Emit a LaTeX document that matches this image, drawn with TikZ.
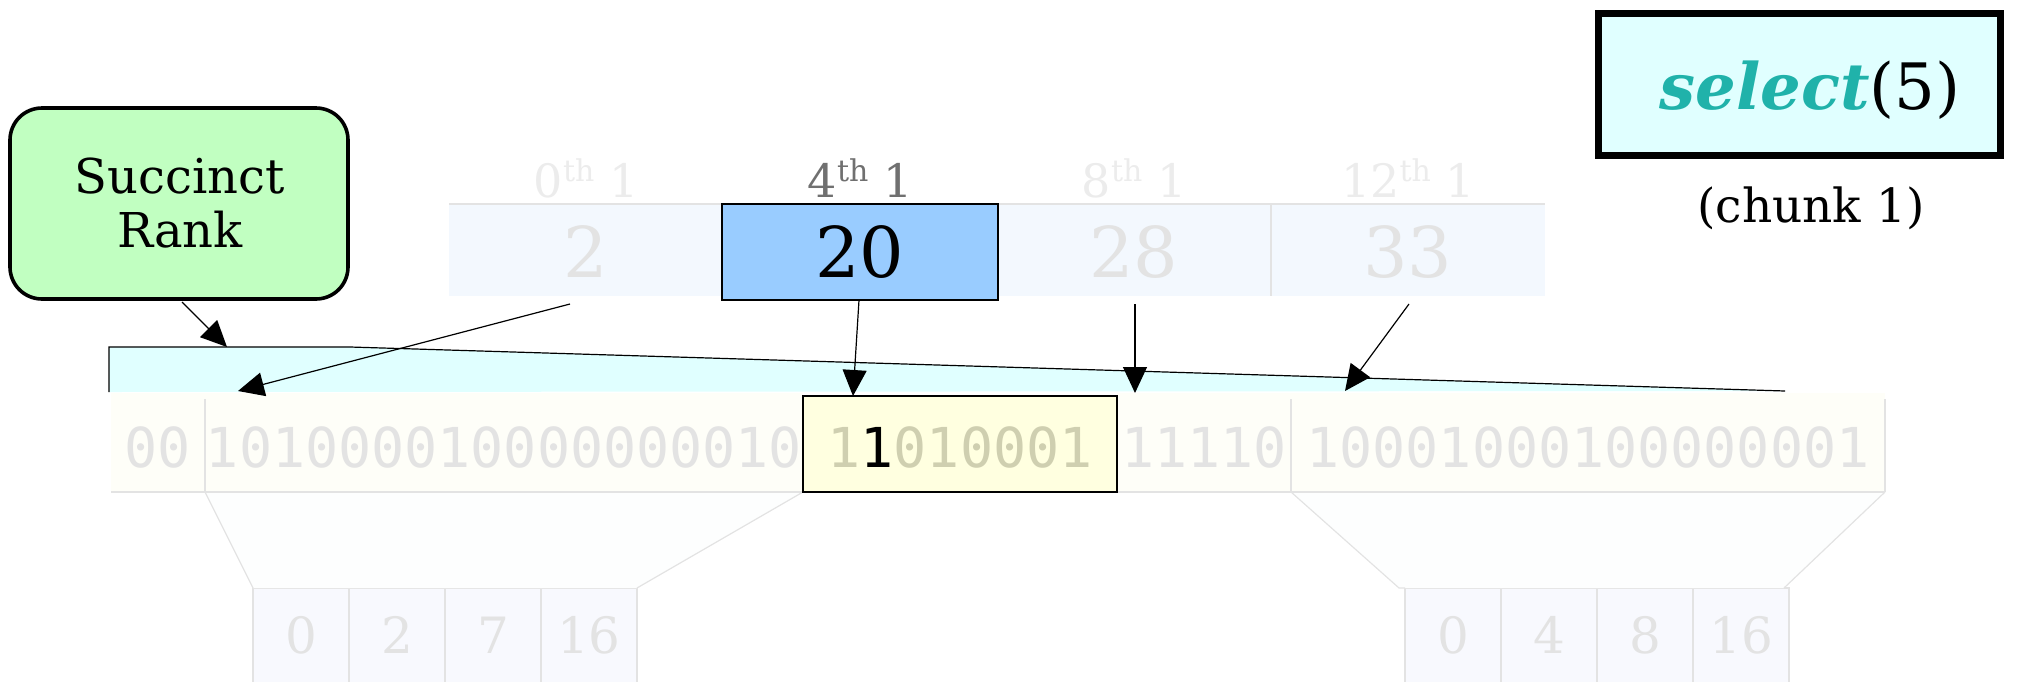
\documentclass[tikz,border=0pt]{standalone}
\usepackage{fontspec}
\setmainfont{DejaVu Serif}
\newfontfamily\bitfont{DejaVu Sans Mono}
\usetikzlibrary{arrows.meta,calc}
\definecolor{rankgreen}{HTML}{C1FFC1}
\definecolor{lcyan}{HTML}{E0FFFF}
\definecolor{cellfill}{HTML}{F3F8FE}
\definecolor{selblue}{HTML}{99CCFF}
\definecolor{bitfill}{HTML}{FEFEF8}
\definecolor{lyellow}{HTML}{FFFFE0}
\definecolor{ytext}{HTML}{CFCFB0}
\definecolor{fadetext}{HTML}{E3E3E3}
\definecolor{faintlbl}{HTML}{ECECEC}
\definecolor{midgray}{HTML}{707070}
\definecolor{gridgray}{HTML}{E3E3E3}
\definecolor{trapfill}{HTML}{FDFEFE}
\definecolor{arrfill}{HTML}{F8F9FE}
\definecolor{seagreen}{HTML}{20B2AA}
\newcommand\thsup{\raisebox{0.33em}{\fontsize{15}{15}\selectfont th}}
\begin{document}
\begin{tikzpicture}[x=0.5pt,y=-0.5pt,
  plain/.style={inner sep=0pt,outer sep=0pt},
  cellbox/.style={plain,fill=cellfill,minimum width=137pt,minimum height=46pt},
  segbox/.style={plain,fill=bitfill,minimum height=49.5pt},
  arrbox/.style={plain,fill=arrfill,draw=gridgray,line width=0.6pt,minimum width=48pt,minimum height=50pt},
  lbl/.style={plain,anchor=base,font=\fontsize{23}{27}\selectfont},
  bignum/.style={plain,anchor=base,font=\fontsize{35}{40}\selectfont},
  bits/.style={plain,anchor=base,font=\bitfont\fontsize{27.5}{30}\selectfont},
  smallnum/.style={plain,anchor=base,font=\fontsize{25}{28}\selectfont,text=fadetext},
  grid/.style={draw=gridgray,line width=0.6pt},
  conn/.style={draw=black,line width=0.6pt,-{Triangle[length=13pt,width=12pt]}}
]
\useasboundingbox (0,0) rectangle (2036,681);

% cyan zoom region
\coordinate (k1) at (109,392);
\coordinate (k2) at (109,347);
\coordinate (k3) at (350,347);
\coordinate (k4) at (1785,391);
\fill[lcyan] (k1) -- (k2) -- (k3) -- (k4) -- cycle;
\draw[black,line width=0.6pt] (k1) -- (k2) -- (k3) -- (k4);
\coordinate (rankin) at (227,347);

% Succinct Rank
\node[plain,draw=black,line width=1.8pt,fill=rankgreen,rounded corners=16pt,
  minimum width=169pt,minimum height=95.5pt] (succ) at (179,203.5) {};
\node[plain,anchor=base,font=\fontsize{24}{28}\selectfont] (succt) at (180,193) {Succinct};
\node[plain,anchor=base,font=\fontsize{24}{28}\selectfont] (rankt) at (180,247) {Rank};

% select(5)
\node[plain,draw=black,line width=3.5pt,fill=lcyan,minimum width=201pt,minimum height=71pt] (sel) at (1799,84) {};
\node[plain,anchor=base,font=\fontsize{32}{36}\selectfont] (selt) at (1810,109) {\textcolor{seagreen}{\bfseries\itshape select}(5)};
\node[plain,anchor=base,font=\fontsize{23.5}{27}\selectfont] (chunk) at (1811,222) {(chunk 1)};

% top sample array
\node[cellbox] (c0) at (586,250) {};
\node[cellbox] (c1) at (860,250) {};
\node[cellbox] (c2) at (1134,250) {};
\node[cellbox] (c3) at (1408,250) {};
\draw[grid] (c0.north west) -- (c3.north east);
\draw[grid] (c2.north east) -- (c2.south east);
\node[plain,draw=black,line width=0.75pt,fill=selblue,minimum width=138pt,minimum height=48pt] (b20) at (860,252) {};
\node[lbl,text=faintlbl] (l0) at (586,197) {0\thsup\ 1};
\node[lbl,text=midgray] (l1) at (860,197) {4\thsup\ 1};
\node[lbl,text=faintlbl] (l2) at (1134,197) {8\thsup\ 1};
\node[lbl,text=faintlbl] (l3) at (1408,197) {12\thsup\ 1};
\node[bignum,text=fadetext] (n0) at (586,277) {2};
\node[bignum,text=black] (n1) at (860,277) {20};
\node[bignum,text=fadetext] (n2) at (1134,277) {28};
\node[bignum,text=fadetext] (n3) at (1408,277) {33};

% bit row
\node[segbox,minimum width=47pt] (s0) at (158,442.5) {};
\node[segbox,minimum width=299pt] (s1) at (504,442.5) {};
\node[segbox,minimum width=87pt] (s3) at (1204,442.5) {};
\node[segbox,minimum width=297pt] (s4) at (1588,442.5) {};
\draw[grid] ($(s1.north west)+(0,6)$) -- (s1.south west);
\draw[grid] ($(s4.north west)+(0,6)$) -- (s4.south west);
\draw[grid] ($(s4.north east)+(0,6)$) -- (s4.south east);

% lower sample arrays
\node[arrbox] (a0) at (301,638) {};
\node[arrbox] (a1) at (397,638) {};
\node[arrbox] (a2) at (493,638) {};
\node[arrbox] (a3) at (589,638) {};
\node[arrbox] (r0) at (1453,638) {};
\node[arrbox] (r1) at (1549,638) {};
\node[arrbox] (r2) at (1645,638) {};
\node[arrbox] (r3) at (1741,638) {};

% trapezoids
\fill[trapfill] (s1.south west) -- (s1.south east) -- (a3.north east) -- (a0.north west) -- cycle;
\draw[grid] (s1.south west) -- (a0.north west);
\draw[grid] (s1.south east) -- (a3.north east);
\coordinate (rbl) at ($(r0.north west)+(-6,0)$);
\coordinate (rbr) at ($(r3.north east)+(-5,0)$);
\fill[trapfill] (s4.south west) -- (s4.south east) -- (rbr) -- (rbl) -- cycle;
\draw[grid] (s4.south west) -- (rbl) -- (r0.north west);
\draw[grid] (s4.south east) -- (rbr);
\draw[grid] (s0.south west) -- (s4.south east);

\node[smallnum] at (301,653) {0};
\node[smallnum] at (397,653) {2};
\node[smallnum] at (493,653) {7};
\node[smallnum] at (589,653) {16};
\node[smallnum] at (1453,653) {0};
\node[smallnum] at (1549,653) {4};
\node[smallnum] at (1645,653) {8};
\node[smallnum] at (1741,653) {16};

% highlighted chunk
\node[plain,draw=black,line width=1pt,fill=lyellow,minimum width=157pt,minimum height=48pt] (yb) at (960,444) {};
\node[bits,text=fadetext] (t0) at (158,467) {00};
\node[bits,text=fadetext] (t1) at (504,467) {101000010000000010};
\node[bits,text=ytext] (t2) at (960,467) {1\textcolor{black}{1}010001};
\node[bits,text=fadetext] (t3) at (1204,467) {11110};
\node[bits,text=fadetext] (t4) at (1588,467) {10001000100000001};

% connectors
\draw[conn] ($(succ.south)+(3,3)$) -- (rankin);
\draw[conn] ($(c0.south)+(-16,8)$) -- ($(s1.north west)+(33,-2)$);
\draw[conn] ($(b20.south)+(-1,0)$) -- ($(yb.north west)+(50,0)$);
\draw[conn] ($(c2.south)+(1,8)$) -- ($(s3.north west)+(18,0)$);
\draw[conn] ($(c3.south)+(1,8)$) -- ($(s4.north west)+(54,-2)$);
\end{tikzpicture}
\end{document}
